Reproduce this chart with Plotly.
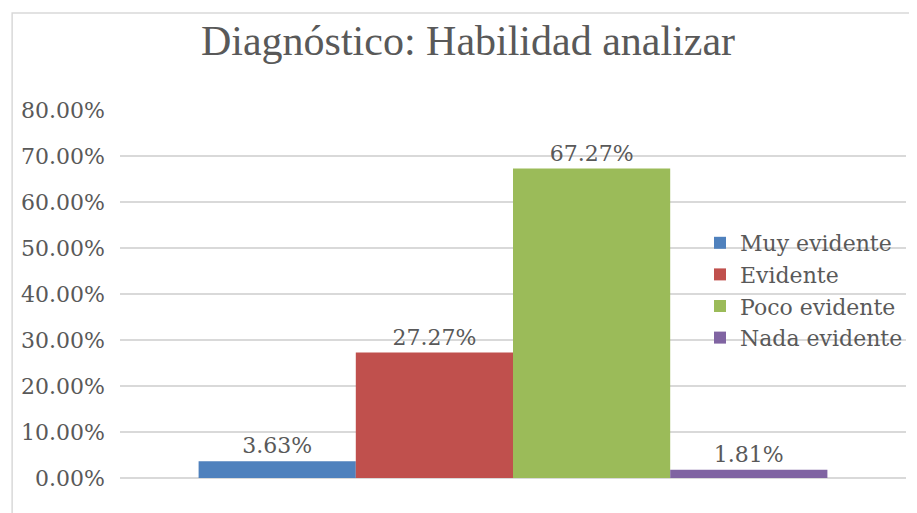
import plotly.graph_objects as go

# Datos del gráfico
categorias = ["Muy evidente", "Evidente", "Poco evidente", "Nada evidente"]
valores = [0.0363, 0.2727, 0.6727, 0.0181]
colores = ["#4F81BD", "#C0504D", "#9BBB59", "#8064A2"]
titulo = "Diagnóstico: Habilidad analizar"

GRIS_TEXTO = "#595959"
GRIS_LINEA = "#D9D9D9"
FUENTE = "DejaVu Serif"

# la página deja 8px de margen en el body: la figura se hace más pequeña
W, H = 909, 505
M_L, M_R, M_T, M_B = 112, 10, 102, 35
ancho_plot = W - M_L - M_R
alto_plot = H - M_T - M_B


def px_a_paper_x(px):
    return (px - M_L) / ancho_plot


def px_a_paper_y(py):
    return (H - M_B - py) / alto_plot


fig = go.Figure()

for nombre, valor, color in zip(categorias, valores, colores):
    fig.add_trace(go.Bar(
        x=[""],
        y=[valor],
        name=nombre,
        marker=dict(color=color, line=dict(width=0)),
        text=[f"{valor * 100:.2f}%"],
        textposition="outside",
        textfont=dict(family=FUENTE, size=22, color=GRIS_TEXTO),
        cliponaxis=False,
    ))

# Borde del área del gráfico
fig.add_shape(
    type="rect", xref="paper", yref="paper",
    x0=px_a_paper_x(4), x1=px_a_paper_x(940),
    y0=px_a_paper_y(540), y1=px_a_paper_y(5),
    line=dict(color=GRIS_LINEA, width=1.5),
    fillcolor="rgba(0,0,0,0)", layer="below",
)

fig.update_layout(
    width=W, height=H,
    margin=dict(l=M_L, r=M_R, t=M_T, b=M_B),
    paper_bgcolor="white",
    plot_bgcolor="white",
    barmode="group",
    bargap=0.2,
    bargroupgap=0,
    title=dict(
        text=titulo,
        font=dict(family="Liberation Serif", size=42, color=GRIS_TEXTO),
        x=460 / W, xanchor="center",
        y=1 - 32 / H, yanchor="middle", yref="container",
    ),
    xaxis=dict(
        showticklabels=False,
        showgrid=False,
        showline=False,
        zeroline=False,
    ),
    yaxis=dict(
        range=[0, 0.8],
        dtick=0.1,
        tickformat=".2%",
        showgrid=True,
        gridcolor=GRIS_LINEA,
        gridwidth=1.5,
        zeroline=True,
        zerolinecolor=GRIS_LINEA,
        zerolinewidth=1.5,
        showline=False,
        ticks="",
        ticklabelstandoff=14,
        tickfont=dict(family=FUENTE, size=22, color=GRIS_TEXTO),
    ),
    legend=dict(
        x=px_a_paper_x(692), xanchor="left",
        y=px_a_paper_y(214), yanchor="top",
        bgcolor="rgba(0,0,0,0)",
        font=dict(family=FUENTE, size=22, color=GRIS_TEXTO),
        itemwidth=30,
        tracegroupgap=0,
    ),
    showlegend=True,
)

fig.write_html("out.html")
